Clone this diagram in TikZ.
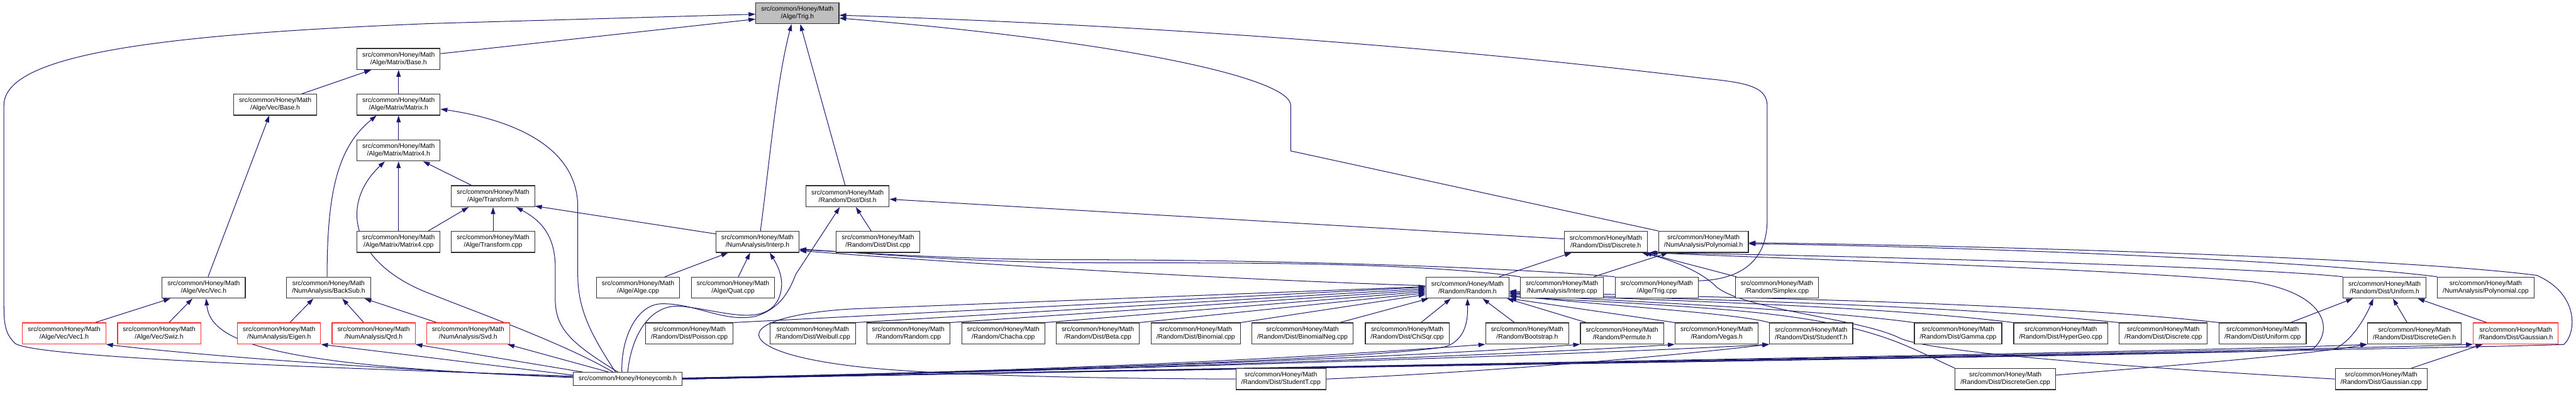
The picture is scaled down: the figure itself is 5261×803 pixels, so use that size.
\documentclass[tikz,border=0pt]{standalone}
\usepackage{fontspec}
\setmainfont{Liberation Sans}
\usetikzlibrary{arrows.meta,calc}
\definecolor{edgeblue}{RGB}{25,25,112}
\definecolor{boxred}{RGB}{255,50,50}
\definecolor{boxgray}{RGB}{191,191,191}
\definecolor{boxline}{RGB}{50,50,50}
\newcommand\hm[1]{src/common/Honey/Math\\#1}
\pgfdeclarelayer{edgelayer}
\pgfdeclarelayer{paper}
\pgfsetlayers{paper,edgelayer,main}
\begin{document}
\begin{tikzpicture}[x=1pt,y=-1pt,
  nbox/.style={draw=boxline,line width=1.5pt,fill=white,align=center,inner xsep=11pt,inner ysep=0pt,minimum height=43pt,font=\fontsize{13.3}{15.5}\selectfont},
  rbox/.style={nbox,draw=boxred},
  gbox/.style={nbox,fill=boxgray},
  edg/.style={draw=edgeblue,line width=1.3pt,-{Triangle[length=14pt,width=9pt]}}]
\begin{pgfonlayer}{paper}
\fill[white] (0,0) rectangle (5261,803);
\end{pgfonlayer}
\useasboundingbox (0,0) rectangle (5261,803);
% row 0
\node[gbox] (trig) at (1628.5,27) {\hm{/Alge/Trig.h}};
% row 1
\node[nbox] (mbase) at (814,120.5) {\hm{/Alge/Matrix/Base.h}};
% row 2
\node[nbox] (vbase) at (562,213.5) {\hm{/Alge/Vec/Base.h}};
\node[nbox] (matrix) at (814,213.5) {\hm{/Alge/Matrix/Matrix.h}};
% row 3
\node[nbox] (matrix4) at (814,307) {\hm{/Alge/Matrix/Matrix4.h}};
% row 4
\node[nbox] (transform) at (1007,400.5) {\hm{/Alge/Transform.h}};
\node[nbox] (dist) at (1731,400.5) {\hm{/Random/Dist/Dist.h}};
% row 5
\node[nbox] (m4cpp) at (814,493.5) {\hm{/Alge/Matrix/Matrix4.cpp}};
\node[nbox] (tcpp) at (1007,493.5) {\hm{/Alge/Transform.cpp}};
\node[nbox] (interp) at (1547,493.5) {\hm{/NumAnalysis/Interp.h}};
\node[nbox] (distcpp) at (1793,493.5) {\hm{/Random/Dist/Dist.cpp}};
\node[nbox] (discrete) at (3279.5,493.5) {\hm{/Random/Dist/Discrete.h}};
\node[nbox] (poly) at (3479,493.5) {\hm{/NumAnalysis/Polynomial.h}};
% row 6
\node[nbox] (vec) at (416,587) {\hm{/Alge/Vec/Vec.h}};
\node[nbox] (backsub) at (671,587) {\hm{/NumAnalysis/BackSub.h}};
\node[nbox] (algecpp) at (1303,587) {\hm{/Alge/Alge.cpp}};
\node[nbox] (quatcpp) at (1497,587) {\hm{/Alge/Quat.cpp}};
\node[nbox] (random) at (2997,587) {\hm{/Random/Random.h}};
\node[nbox] (interpcpp) at (3190,587) {\hm{/NumAnalysis/Interp.cpp}};
\node[nbox] (trigcpp) at (3383.6,587) {\hm{/Alge/Trig.cpp}};
\node[nbox] (simplex) at (3629,587) {\hm{/Random/Simplex.cpp}};
\node[nbox] (uniform) at (4870,587) {\hm{/Random/Dist/Uniform.h}};
\node[nbox] (polycpp) at (5076.5,587) {\hm{/NumAnalysis/Polynomial.cpp}};
% row 7
\node[rbox] (vec1) at (131,680.5) {\hm{/Alge/Vec/Vec1.h}};
\node[rbox] (swiz) at (325,680.5) {\hm{/Alge/Vec/Swiz.h}};
\node[rbox] (eigen) at (570,680.5) {\hm{/NumAnalysis/Eigen.h}};
\node[rbox] (qrd) at (763,680.5) {\hm{/NumAnalysis/Qrd.h}};
\node[rbox] (svd) at (956,680.5) {\hm{/NumAnalysis/Svd.h}};
\node[nbox] (poisson) at (1408,680.5) {\hm{/Random/Dist/Poisson.cpp}};
\node[nbox] (weibull) at (1660,680.5) {\hm{/Random/Dist/Weibull.cpp}};
\node[nbox] (randomcpp) at (1855,680.5) {\hm{/Random/Random.cpp}};
\node[nbox] (chacha) at (2049,680.5) {\hm{/Random/Chacha.cpp}};
\node[nbox] (beta) at (2242,680.5) {\hm{/Random/Dist/Beta.cpp}};
\node[nbox] (binomial) at (2442,680.5) {\hm{/Random/Dist/Binomial.cpp}};
\node[nbox] (binneg) at (2660,680.5) {\hm{/Random/Dist/BinomialNeg.cpp}};
\node[nbox] (chisqr) at (2874,680.5) {\hm{/Random/Dist/ChiSqr.cpp}};
\node[nbox] (bootstrap) at (3119,680.5) {\hm{/Random/Bootstrap.h}};
\node[nbox] (permute) at (3312.6,680.5) {\hm{/Random/Permute.h}};
\node[nbox] (vegas) at (3506,680.5) {\hm{/Random/Vegas.h}};
\node[nbox] (studentth) at (3699,680.5) {\hm{/Random/Dist/StudentT.h}};
\node[nbox] (gamma) at (3999,680.5) {\hm{/Random/Dist/Gamma.cpp}};
\node[nbox] (hypergeo) at (4208.7,680.5) {\hm{/Random/Dist/HyperGeo.cpp}};
\node[nbox] (discretecpp) at (4418,680.5) {\hm{/Random/Dist/Discrete.cpp}};
\node[nbox] (uniformcpp) at (4621,680.5) {\hm{/Random/Dist/Uniform.cpp}};
\node[nbox] (discgenh) at (4931,680.5) {\hm{/Random/Dist/DiscreteGen.h}};
\node[rbox] (gaussh) at (5138,680.5) {\hm{/Random/Dist/Gaussian.h}};
% row 8
\node[nbox,minimum height=27pt] (honeycomb) at (1282,773.5) {src/common/Honey/Honeycomb.h};
\node[nbox] (studentcpp) at (2616,773.5) {\hm{/Random/Dist/StudentT.cpp}};
\node[nbox] (discgencpp) at (4095.5,773.5) {\hm{/Random/Dist/DiscreteGen.cpp}};
\node[nbox] (gausscpp) at (4863,773.5) {\hm{/Random/Dist/Gaussian.cpp}};

\begin{pgfonlayer}{edgelayer}
% into Trig.h
\draw[edg] ($(mbase.east)+(0,-11)$) -- ($(trig.west)+(0,12)$);
\draw[edg] ($(honeycomb.west)+(0,-6)$) .. controls (700,752) and (60,730) .. (30,700) .. controls (10,680) and (8,660) .. (8,620) -- (8,215) .. controls (8,110) and (330,70) .. (880,48) -- ($(trig.west)+(0,2)$);
\draw[edg] ($(interp.north)+(6,0)$) .. controls (1572,330) and (1585,170) .. ($(trig.south)+(-12,0)$);
\draw[edg] ($(dist.north)+(-5,0)$) -- ($(trig.south)+(6,0)$);
\draw[edg] ($(trigcpp.east)+(0,-14)$) .. controls (3570,570) and (3609,520) .. (3609,450) -- (3609,215) .. controls (3609,175) and (3560,168) .. (3480,160) .. controls (2900,90) and (2300,50) .. ($(trig.east)+(0,4)$);
\draw[edg] (poly.north west) -- (2636,308) -- (2636,215) .. controls (2636,160) and (2300,85) .. ($(trig.east)+(0,10)$);
% Matrix/Base.h
\draw[edg] ($(vbase.north)+(55,0)$) -- ($(mbase.south)+(-56,0)$);
\draw[edg] (matrix) -- (mbase);
% Vec/Base.h
\draw[edg] ($(vec.north)+(9,0)$) -- ($(vbase.south)+(-12,0)$);
% Vec.h
\draw[edg] ($(vec1.north)+(63,0)$) -- ($(vec.south)+(-68,0)$);
\draw[edg] ($(swiz.north)+(20,0)$) -- ($(vec.south)+(-23,0)$);
\draw[edg] ($(honeycomb.west)+(0,-4)$) .. controls (560,748) and (430,700) .. ($(vec.south)+(5,0)$);
% Vec1.h
\draw[edg] ($(honeycomb.west)+(0,-3)$) .. controls (800,755) and (400,725) .. (vec1.south east);
% Matrix.h
\draw[edg] (matrix4) -- (matrix);
\draw[edg] ($(backsub.north)+(-3,0)$) .. controls (668,390) and (690,300) .. ($(matrix.south)+(-45,0)$);
\draw[edg] ($(honeycomb.north)+(-25,0)$) .. controls (1205,680) and (1180,630) .. (1180,560) -- (1180,420) .. controls (1178,300) and (1050,245) .. ($(matrix.east)+(0,9)$);
% Matrix4.h
\draw[edg] (m4cpp) -- (matrix4);
\draw[edg] ($(transform.north)+(-44,0)$) -- ($(matrix4.south)+(50,0)$);
\draw[edg] ($(honeycomb.north)+(-30,0)$) .. controls (1150,700) and (980,640) .. (880,600) .. controls (720,540) and (690,420) .. ($(matrix4.south)+(-28,0)$);
% BackSub.h
\draw[edg] ($(eigen.north)+(22,0)$) -- ($(backsub.south)+(-31,0)$);
\draw[edg] ($(qrd.north)+(-20,0)$) -- ($(backsub.south)+(28,0)$);
\draw[edg] ($(svd.north)+(-64,0)$) -- ($(backsub.south east)+(-13,0)$);
% Eigen, Qrd, Svd
\draw[edg] ($(honeycomb.west)+(0,-8)$) .. controls (1000,745) and (800,720) .. (eigen.south east);
\draw[edg] ($(honeycomb.north west)+(20,0)$) -- (qrd.south east);
\draw[edg] ($(honeycomb.north)+(-39,0)$) -- ($(svd.south east)+(-5,0)$);
% Transform.h
\draw[edg] ($(m4cpp.north east)+(-25,0)$) -- ($(transform.south)+(-50,0)$);
\draw[edg] (tcpp) -- (transform);
\draw[edg] ($(honeycomb.north)+(-20,0)$) .. controls (1165,700) and (1134,670) .. (1134,610) -- (1134,540) .. controls (1132,480) and (1105,450) .. ($(transform.south)+(47,0)$);
\draw[edg] ($(interp.north west)+(0,6)$) -- ($(transform.east)+(0,20)$);
% Interp.h
\draw[edg] ($(algecpp.north)+(55,0)$) -- ($(interp.south)+(-60,0)$);
\draw[edg] ($(quatcpp.north)+(11,0)$) -- ($(interp.south)+(-15,0)$);
\draw[edg] (honeycomb.north) .. controls (1290,680) and (1330,620) .. (1390,625) .. controls (1470,632) and (1560,670) .. (1590,610) .. controls (1605,575) and (1590,545) .. ($(interp.south)+(25,0)$);
\draw[edg] (interpcpp.north west) .. controls (2850,530) and (2400,538) .. (2200,536) .. controls (1950,534) and (1750,515) .. ($(interp.east)+(0,15)$);
\draw[edg] (trigcpp.north west) .. controls (3000,540) and (2500,530) .. (2200,530) .. controls (1950,530) and (1750,515) .. ($(interp.east)+(0,16)$);
\draw[edg] ($(random.west)+(0,-4)$) .. controls (2500,570) and (2000,540) .. ($(interp.east)+(0,18)$);
% Dist.h
\draw[edg] ($(distcpp.north)+(-14,0)$) -- ($(dist.south)+(17,0)$);
\draw[edg] ($(discrete.west)+(0,-6)$) -- ($(dist.east)+(0,6)$);
\draw[edg] ($(honeycomb.north)+(-12,0)$) .. controls (1268,690) and (1300,622) .. (1350,620) .. controls (1420,618) and (1480,660) .. (1545,645) .. controls (1590,630) and (1610,600) .. (1625,560) -- ($(dist.south)+(-16,0)$);
% Random.h, left fan
\draw[edg] (poisson.north east) -- ($(random.west)+(0,-1)$);
\draw[edg] (weibull.north east) -- ($(random.west)+(0,2)$);
\draw[edg] (randomcpp.north east) -- ($(random.west)+(0,5)$);
\draw[edg] (chacha.north east) -- ($(random.west)+(0,8)$);
\draw[edg] (beta.north east) -- ($(random.west)+(0,11)$);
\draw[edg] (binomial.north east) -- ($(random.west)+(0,14)$);
\draw[edg] ($(binneg.north east)+(-28,0)$) -- ($(random.south west)+(6,0)$);
\draw[edg] ($(chisqr.north)+(28,0)$) -- ($(random.south)+(-34,0)$);
% Random.h, centre and right
\draw[edg] ($(bootstrap.north)+(-26,0)$) -- ($(random.south)+(31,0)$);
\draw[edg] ($(permute.north west)+(13,0)$) -- ($(random.south east)+(-5,0)$);
\draw[edg] (vegas.north west) -- (random.south east);
\draw[edg] (studentth.north west) .. controls (3550,640) and (3300,625) .. ($(random.east)+(0,16)$);
\draw[edg] (gamma.north west) .. controls (3700,630) and (3300,615) .. ($(random.east)+(0,13)$);
\draw[edg] (hypergeo.north west) .. controls (3800,620) and (3300,612) .. ($(random.east)+(0,11)$);
\draw[edg] (discretecpp.north west) .. controls (3900,615) and (3300,610) .. ($(random.east)+(0,9)$);
\draw[edg] (uniformcpp.north west) .. controls (4100,610) and (3300,605) .. ($(random.east)+(0,7)$);
\draw[edg] (discgencpp.north west) .. controls (3880,700) and (3820,655) .. (3500,630) .. controls (3300,615) and (3150,610) .. ($(random.east)+(0,18)$);
\draw[edg] (studentcpp.west) .. controls (2100,772) and (1850,760) .. (1750,748) .. controls (1610,732) and (1545,705) .. (1550,680) .. controls (1555,655) and (1640,635) .. (1750,630) -- ($(random.west)+(0,-2)$);
% Honeycomb.h to the right
\draw[edg] (honeycomb.east) .. controls (2100,758) and (2800,732) .. (2950,708) .. controls (2995,695) and (2998,650) .. (random.south);
\draw[edg] ($(honeycomb.east)+(0,-2)$) .. controls (2300,755) and (2800,720) .. (bootstrap.south west);
\draw[edg] ($(honeycomb.east)+(0,-2)$) .. controls (2400,752) and (3000,720) .. (permute.south west);
\draw[edg] ($(honeycomb.east)+(0,-1)$) .. controls (2500,750) and (3200,718) .. (vegas.south west);
\draw[edg] ($(honeycomb.east)+(0,-1)$) .. controls (2600,748) and (3400,715) .. (studentth.south west);
\draw[edg] (honeycomb.east) .. controls (2800,745) and (4500,718) .. (discgenh.south west);
\draw[edg] (honeycomb.east) .. controls (2800,745) and (4700,716) .. (gaussh.south west);
\draw[edg] (honeycomb.east) .. controls (2700,748) and (4500,722) .. (4765,713) .. controls (4800,700) and (4830,650) .. ($(uniform.south)+(-23,0)$);
\draw[edg] (honeycomb.east) .. controls (2700,748) and (4500,725) .. (4722,713) .. controls (4765,680) and (4760,600) .. (4600,575) .. controls (4300,548) and (3700,530) .. ($(discrete.south east)+(6,0)$);
\draw[edg] (honeycomb.east) .. controls (2900,745) and (5000,712) .. (5236,703) .. controls (5262,680) and (5268,600) .. (5181,562) .. controls (4900,525) and (4000,500) .. ($(poly.east)+(0,2)$);
% Polynomial.h
\draw[edg] (polycpp.north west) .. controls (4700,530) and (4000,503) .. ($(poly.east)+(0,4)$);
\draw[edg] ($(interpcpp.north)+(65,0)$) -- ($(poly.south)+(-72,0)$);
% Discrete.h
\draw[edg] ($(random.north)+(65,0)$) -- ($(discrete.south)+(-70,0)$);
\draw[edg] (uniform.north west) .. controls (4600,545) and (3800,522) .. ($(discrete.south east)+(2,0)$);
\draw[edg] ($(simplex.north west)+(3,0)$) -- ($(discrete.south east)+(-6,0)$);
\draw[edg] (gausscpp.west) .. controls (4400,752) and (3950,722) .. (3880,690) .. controls (3800,650) and (3560,632) .. (3505,585) .. controls (3475,555) and (3420,532) .. ($(discrete.south east)+(-12,0)$);
% Uniform.h
\draw[edg] ($(uniformcpp.north)+(57,0)$) -- ($(uniform.south west)+(21,0)$);
\draw[edg] ($(discgenh.north)+(-15,0)$) -- ($(uniform.south)+(17,0)$);
\draw[edg] ($(gaussh.north)+(-59,0)$) -- ($(uniform.south east)+(-18,0)$);
% DiscreteGen.h, Gaussian.h, StudentT.h
\draw[edg] ($(discgencpp.east)+(0,-8)$) .. controls (4450,745) and (4700,725) .. (discgenh.south west);
\draw[edg] ($(gausscpp.north)+(62,0)$) -- ($(gaussh.south)+(-68,0)$);
\draw[edg] (studentcpp.east) .. controls (3100,756) and (3450,722) .. (studentth.south west);
\end{pgfonlayer}
\end{tikzpicture}
\end{document}
